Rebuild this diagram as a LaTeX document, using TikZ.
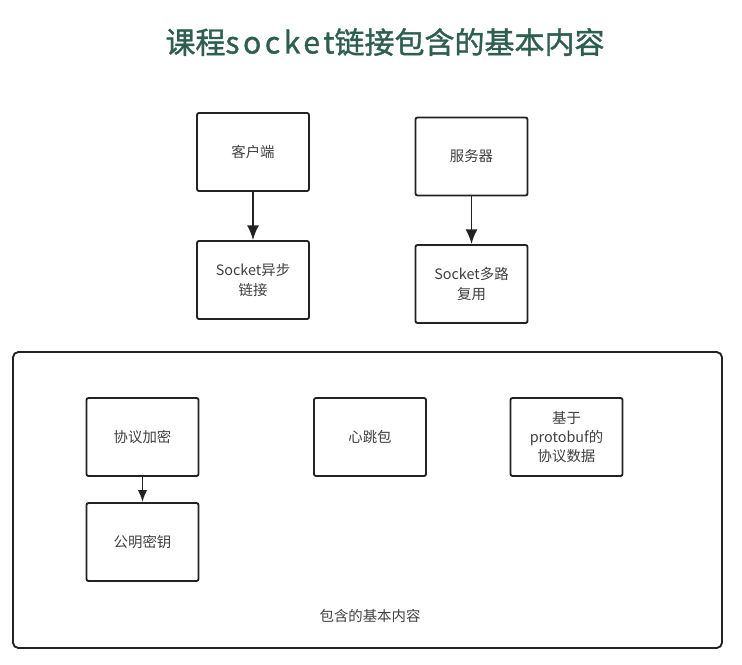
\documentclass[tikz,border=0pt]{standalone}
\usepackage{fontspec}
\setmainfont{Noto Sans CJK SC}
\newfontfamily\titlefont[FakeBold=1.2]{Noto Sans CJK SC}
\usepackage{xcolor}
\usetikzlibrary{arrows.meta}
\definecolor{titlegreen}{HTML}{2E5E50}
\definecolor{boxline}{HTML}{222222}
\definecolor{boxtext}{HTML}{404040}

\begin{document}
\begin{tikzpicture}[x=0.75pt, y=-0.75pt,
  every node/.style={font=\fontsize{10.8}{15.5}\selectfont, text=boxtext},
  item/.style={draw=boxline, line width=1.4pt, rounded corners=1.5pt, fill=white,
    minimum width=84pt, minimum height=58.5pt, inner sep=2pt, align=center},
  link/.style={draw=boxline, line width=1.4pt, -{Latex[length=11pt,width=9pt]}},
  smalllink/.style={link, -{Latex[length=9pt,width=7pt]}}]
\useasboundingbox (0,0) rectangle (742,664);
% Title
\node[font=\fontsize{22.5}{26}\selectfont\titlefont, text=titlegreen] (title) at (385,42) {课程{\addfontfeature{LetterSpace=12}socket}链接包含的基本内容};
% Client and server
\node[item] (client) at (253,152) {客户端};
\node[item] (clientsock) at (253,280) {Socket异步\\链接};
\node[item] (server) at (471.5,156.5) {服务器};
\node[item] (serversock) at (471.5,284) {Socket多路\\复用};
\draw[link] (client) -- (clientsock);
\draw[link] (server) -- (serversock);
% Contents
\node[draw=boxline, line width=1.4pt, rounded corners=4pt, minimum width=531.75pt, minimum height=222pt] (content) at (367.5,500) {};
\node[item] (encrypt) at (142.5,437) {协议加密};
\node[item] (keys) at (142.5,542) {公明密钥};
\node[item] (heartbeat) at (370,437) {心跳包};
\node[item, font=\fontsize{10.8}{14}\selectfont] (proto) at (566.5,437) {基于\\protobuf的\\协议数据};
\draw[smalllink] (encrypt) -- (keys);
\node (contentlabel) at (370,616) {包含的基本内容};
\end{tikzpicture}
\end{document}
